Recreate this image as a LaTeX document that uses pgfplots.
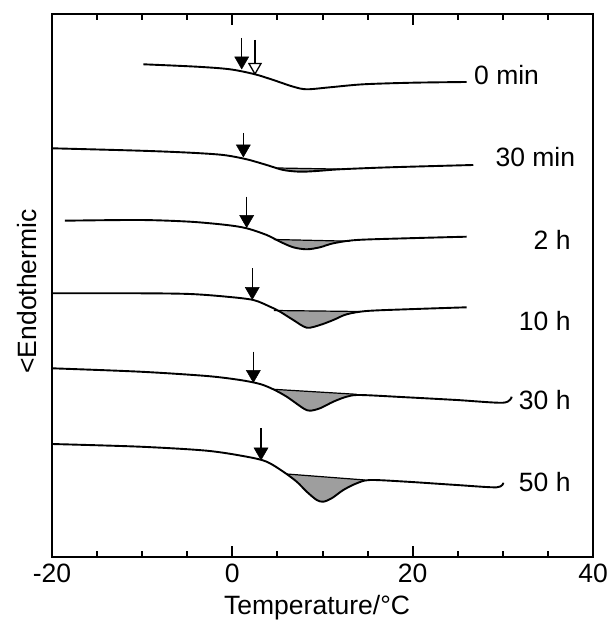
\documentclass[border=0pt]{standalone}
\usepackage{fontspec}
\setmainfont{Liberation Sans}
\usepackage{pgfplots}
\pgfplotsset{compat=1.18}
\begin{document}
\begin{tikzpicture}[font=\fontsize{26.5bp}{32bp}\selectfont]
\begin{axis}[
  scale only axis, width=541bp, height=543bp,
  xmin=-20, xmax=40, ymin=-557, ymax=-14,
  axis line style={line width=2.7bp},
  xtick={-20,0,20,40}, xticklabels={-20,0,20,40},
  minor xtick={-15,-10,-5,5,10,15,25,30,35},
  ytick=\empty,
  tick align=inside,
  xtick pos=both,
  major tick length=11bp, minor tick length=6bp,
  every tick/.style={line width=2bp, black},
  xticklabel style={anchor=center, yshift=-16bp},
  xlabel={Temperature/°C},
  xlabel style={at={(axis description cs:0.49,-0.0939)}, anchor=center},
  ylabel={<Endothermic},
  ylabel style={at={(axis description cs:-0.0462,0.489)}, anchor=center},
  clip=false,
  every axis plot/.append style={line width=1.9bp, black},
]
% fills
\addplot[smooth, draw=none, fill=black!38] coordinates {(5.0,-168.0) (5.65,-170) (7.50,-171.7) (9.36,-171) (11.94,-169.3) (12.5,-169.2)};
\addplot[smooth, draw=none, fill=black!38] coordinates {(4.6,-239.5) (5.29,-241.7) (6.76,-247.3) (8.25,-249.3) (9.72,-247.3) (11.20,-243.3) (13.0,-241.2)};
\addplot[smooth, draw=none, fill=black!38] coordinates {(4.6,-310.5) (5.29,-311.7) (6.76,-320) (8.25,-327.7) (9.72,-325) (11.20,-320) (12.68,-314.3) (14.2,-311.5)};
\addplot[smooth, draw=none, fill=black!38] coordinates {(4.54,-389.3) (6.03,-396.7) (7.87,-408.3) (8.61,-410.7) (9.72,-408.3) (11.20,-401.7) (12.68,-396.7) (13.79,-394.3)};
\addplot[smooth, draw=none, fill=black!38] coordinates {(6.03,-474) (7.14,-481.7) (8.25,-491.7) (9.36,-500) (10.09,-501.7) (11.02,-498.3) (12.31,-490) (13.79,-483.3) (14.71,-480)};
% baselines
\addplot[line width=1.2bp] coordinates {(5.0,-168.0) (12.5,-169.2)};
\addplot[line width=1.2bp] coordinates {(4.6,-239.5) (13.0,-241.2)};
\addplot[line width=1.2bp] coordinates {(4.6,-310.5) (14.2,-311.5)};
\addplot[line width=1.2bp] coordinates {(4.54,-389.3) (13.79,-394.3)};
\addplot[line width=1.2bp] coordinates {(6.03,-474) (14.71,-480)};
% curves
\addplot[smooth] coordinates {(-9.87,-64.3) (-3.95,-66.7) (-0.26,-69.3) (2.51,-74.3) (4.54,-80) (6.76,-86.7) (8.25,-89.3) (10.83,-87.3) (14.53,-84.3) (20.07,-82.7) (25.99,-82)};
\addplot[smooth] coordinates {(-20,-148.3) (-10.24,-150.7) (-4.70,-152.7) (-1.00,-155) (1.59,-159.3) (3.81,-165) (5.65,-170) (7.50,-171.7) (9.36,-171) (11.94,-169.3) (17.49,-167.3) (26.72,-165)};
\addplot[smooth] coordinates {(-18.56,-220.7) (-10.24,-220) (-4.70,-221.7) (-0.63,-225) (1.59,-228.3) (3.81,-235) (5.29,-241.7) (6.76,-247.3) (8.25,-249.3) (9.72,-247.3) (11.20,-243.3) (13.79,-240) (19.34,-238.3) (25.99,-236.7)};
\addplot[smooth] coordinates {(-20,-293.3) (-10.24,-293.3) (-4.70,-294) (-0.63,-296.7) (2.33,-300) (4.18,-306.7) (5.29,-311.7) (6.76,-320) (8.25,-327.7) (9.72,-325) (11.20,-320) (12.68,-314.3) (14.90,-311) (19.34,-309.3) (25.99,-307.3)};
\addplot[smooth] coordinates {(-20,-368.3) (-10.24,-371.7) (-2.84,-376) (0.85,-380) (3.07,-384) (4.54,-389.3) (6.03,-396.7) (7.87,-408.3) (8.61,-410.7) (9.72,-408.3) (11.20,-401.7) (12.68,-396.7) (14.16,-395) (19.34,-397.3) (24.88,-400) (30.05,-402.7) (30.98,-396.7)};
\addplot[smooth] coordinates {(-20,-444) (-10.24,-446.7) (-2.84,-450.7) (1.59,-456.7) (3.81,-461.7) (5.65,-471.7) (7.14,-481.7) (8.25,-491.7) (9.36,-500) (10.09,-501.7) (11.02,-498.3) (12.31,-490) (13.79,-483.3) (15.27,-480) (19.34,-481.7) (24.88,-485) (29.32,-487.3) (30.05,-482.7)};
% arrow shafts
\addplot[line width=1.5bp] coordinates {(1.04,-38) (1.04,-61)};
\addplot[line width=1.5bp] coordinates {(2.51,-40) (2.51,-67)};
\addplot[line width=1.5bp] coordinates {(1.22,-133) (1.22,-149)};
\addplot[line width=1.5bp] coordinates {(1.59,-196.7) (1.59,-219.5)};
\addplot[line width=1.5bp] coordinates {(2.21,-268.3) (2.21,-291.5)};
\addplot[line width=1.5bp] coordinates {(2.33,-351.7) (2.33,-374.5)};
\addplot[line width=1.5bp] coordinates {(3.18,-428.3) (3.18,-452)};
% arrow heads
\addplot[only marks, mark=triangle*, mark size=8bp, mark options={rotate=180, fill=black, draw=black, line width=0.5bp}] coordinates {(1.04,-61) (1.22,-149) (1.59,-219.5) (2.21,-291.5) (2.33,-374.5) (3.18,-452)};
\addplot[only marks, mark=triangle*, mark size=7bp, mark options={rotate=180, fill=white, draw=black, line width=1.3bp}] coordinates {(2.51,-67)};
% labels
\node[anchor=east] at (axis cs:34.4,-75) {0 min};
\node[anchor=east] at (axis cs:38.4,-157) {30 min};
\node[anchor=east] at (axis cs:37.9,-240) {2 h};
\node[anchor=east] at (axis cs:37.9,-321) {10 h};
\node[anchor=east] at (axis cs:37.9,-400) {30 h};
\node[anchor=east] at (axis cs:37.9,-482) {50 h};
\end{axis}
\path (-52bp,-70bp) rectangle (560bp,557bp);
\end{tikzpicture}
\end{document}
